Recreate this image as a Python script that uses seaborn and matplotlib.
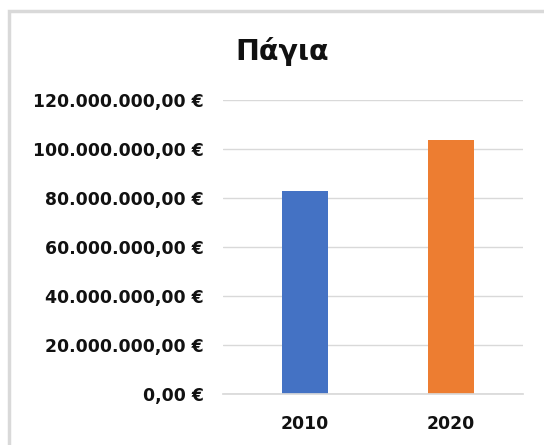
import matplotlib
matplotlib.use("Agg")
import matplotlib.pyplot as plt
import matplotlib.patches as mpatches
from matplotlib.ticker import FuncFormatter
import seaborn as sns
import pandas as pd

years = ["2010", "2020"]
values = [83_000_000, 103_700_000]
colors = ["#4472C4", "#ED7D31"]
title = "Πάγια"

sns.set_theme(style="white")
plt.rcParams["font.family"] = ["DejaVu Sans"]
plt.rcParams["font.weight"] = "bold"

df = pd.DataFrame({"year": years, "value": values})

fig = plt.figure(figsize=(5.44, 4.45), dpi=100)
ax = fig.add_axes([223 / 544, 1 - 394 / 445, 300 / 544, 294 / 445])

sns.barplot(data=df, x="year", y="value", hue="year", palette=colors,
            width=0.315, legend=False, ax=ax, saturation=1, linewidth=0)

ax.set_xlim(-0.562, 1.493)
ax.set_ylim(0, 120_000_000)
ax.set_yticks(range(0, 120_000_001, 20_000_000))


def euro(v, pos):
    s = f"{v:,.2f}"
    s = s.replace(",", "X").replace(".", ",").replace("X", ".")
    return f"{s} €"


ax.yaxis.set_major_formatter(FuncFormatter(euro))
ax.yaxis.grid(True, color="#D9D9D9", linewidth=1)
ax.set_axisbelow(True)
for s in ax.spines.values():
    s.set_visible(False)
ax.spines["bottom"].set_visible(True)
ax.spines["bottom"].set_color("#D9D9D9")
ax.set_xlabel("")
ax.set_ylabel("")
ax.tick_params(axis="y", length=0, pad=14, labelsize=12.4, labelcolor="#111111")
ax.tick_params(axis="x", length=0, pad=15, labelsize=12.4, labelcolor="#111111")

fig.text(282 / 544, 1 - 51 / 445, title, ha="center", va="center",
         fontsize=20.5, fontweight="bold", color="#111111")

# outer chart frame
fig.patches.append(mpatches.Rectangle((9 / 544, -0.1), 1.2, 1 - 11 / 445 + 0.1,
                                      transform=fig.transFigure, fill=False,
                                      edgecolor="#D9D9D9", linewidth=2.5))

fig.savefig("out.png", dpi=100)
